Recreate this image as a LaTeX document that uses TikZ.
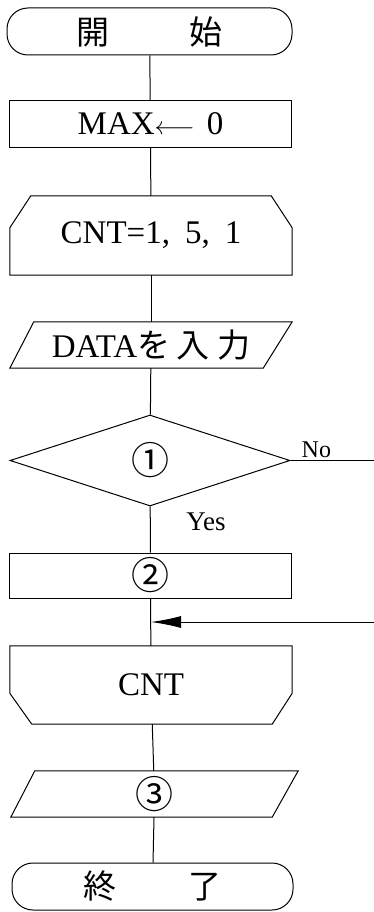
\documentclass[tikz,border=0pt]{standalone}
\usepackage{fontspec}
\setmainfont{Liberation Serif}
\newfontfamily\jp{Noto Sans CJK JP}
\usetikzlibrary{calc,arrows.meta,shapes.geometric}

\begin{document}
\begin{tikzpicture}[x=1pt,y=-1pt]

\tikzset{
flow/.style={line width=1pt,draw=black},
slot/.style={rectangle,inner sep=0pt,minimum width=282pt,minimum height=47pt,font=\fontsize{33}{36}\selectfont},
proc/.style={slot,draw,flow},
term/.style={slot,draw,flow,rounded corners=21pt},
decide/.style={diamond,draw,flow,inner sep=0pt,minimum width=280pt,minimum height=91pt,font=\fontsize{33}{36}\selectfont},
inherit/.style={flow,-{Latex[length=30pt,width=12pt]}}
}

\useasboundingbox (0,0) rectangle (374,912);

% Nodes
\node[term,minimum width=285pt] (start) at (149.5,31.5) {\jp 開\hspace{80pt}始};
\node[proc] (init) at (150.5,124) {MAX$\longleftarrow$\hspace{12pt}0};
\node[slot,minimum height=79pt] (lpbeg) at (151,235.5) {CNT=1,\hspace{15pt}5,\hspace{15pt}1};
\node[slot,minimum height=46pt] (input) at (151,345) {DATA{\jp\fontsize{33}{36}\selectfont を\hspace{6pt}入\hspace{8pt}力}};
\node[decide] (cond) at (150,460.5) {{\jp\fontsize{38}{40}\selectfont ①}};
\node[proc,minimum height=45pt] (update) at (150.5,575.5) {{\jp\fontsize{38}{40}\selectfont ②}};
\node[slot,minimum height=78pt] (lpend) at (151,685) {CNT};
\node[slot,minimum width=287pt,minimum height=46pt] (output) at (154.5,794) {{\jp\fontsize{38}{40}\selectfont ③}};
\node[term,minimum width=281pt] (stop) at (152.5,886.5) {\jp 終\hspace{72pt}了};

\coordinate (noend) at (374,460.5);
\coordinate (back) at (374,622);
\coordinate (merge) at (151,622);

% Outlines
\draw[flow] (lpbeg.south west) -- ($(lpbeg.north west)+(0,32)$) -- ($(lpbeg.north west)+(21,0)$)
  -- ($(lpbeg.north east)+(-21,0)$) -- ($(lpbeg.north east)+(0,32)$) -- (lpbeg.south east) -- cycle;
\draw[flow] ($(input.north west)+(24,0)$) -- (input.north east) -- ($(input.south east)+(-29,0)$)
  -- (input.south west) -- cycle;
\draw[flow] (lpend.north west) -- ($(lpend.south west)+(0,-31)$) -- ($(lpend.south west)+(22,0)$)
  -- ($(lpend.south east)+(-20,0)$) -- ($(lpend.south east)+(0,-31)$) -- (lpend.north east) -- cycle;
\draw[flow] ($(output.north west)+(24,0)$) -- (output.north east) -- ($(output.south east)+(-26,0)$)
  -- (output.south west) -- cycle;

% Flow lines
\draw[flow] (start) -- (init);
\draw[flow] (init) -- (lpbeg);
\draw[flow] (lpbeg) -- (input);
\draw[flow] (input) -- (cond);
\draw[flow] (cond) -- (update);
\draw[flow] (update) -- (lpend);
\draw[flow] (lpend) -- (output);
\draw[flow] (output) -- (stop);
\draw[flow] (cond.east) -- (noend);
\draw[inherit] (back) -- (merge);

% Labels
\node[inner sep=0pt,anchor=south west,font=\fontsize{24}{26}\selectfont] (no) at ($(cond.east)+(11,-3)$) {No};
\node[inner sep=0pt,font=\fontsize{27}{30}\selectfont] (yes) at ($(cond.south)+(56,15)$) {Yes};

\end{tikzpicture}
\end{document}
